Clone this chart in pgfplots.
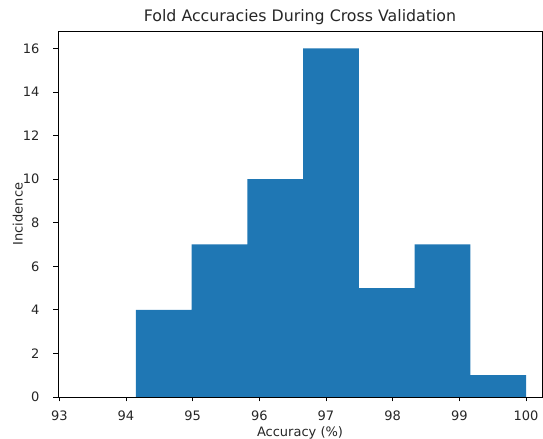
\documentclass[border=0pt]{standalone}
\usepackage{fontspec}
\setmainfont{DejaVu Sans}
\usepackage{pgfplots}
\pgfplotsset{compat=1.18}
\definecolor{mplblue}{HTML}{1F77B4}
\definecolor{txt}{HTML}{262626}
\begin{document}
\begin{tikzpicture}
\begin{axis}[
  scale only axis,
  width=484pt, height=366pt,
  xmin=92.98, xmax=100.24,
  ymin=0, ymax=16.8,
  xtick={93,94,95,96,97,98,99,100},
  ytick={0,2,4,6,8,10,12,14,16},
  /pgf/number format/assume math mode=true,
  tick align=outside,
  major tick length=4.5pt,
  tick style={black, line width=0.9pt},
  xtick pos=bottom, ytick pos=left,
  axis line style={black, line width=0.9pt},
  ticklabel style={font=\fontsize{13}{15}\selectfont, text=txt},
  xticklabel style={inner sep=0pt, anchor=north, yshift=-9pt},
  yticklabel style={inner sep=0pt, anchor=east, xshift=-14pt},
  title={Fold Accuracies During Cross Validation},
  every axis title/.style={at={(axis description cs:0.5,1.0265)}, anchor=base, font=\fontsize{15.8}{18}\selectfont, text=txt},
  xlabel={Accuracy (\%)},
  ylabel={Incidence},
  every axis x label/.style={at={(axis description cs:0.5,-0.1066)}, anchor=base, font=\fontsize{13}{15}\selectfont, text=txt},
  every axis y label/.style={at={(axis description cs:-0.0729,0.5)}, rotate=90, anchor=base, font=\fontsize{13}{15}\selectfont, text=txt},
]
\addplot[ybar interval, fill=mplblue, draw=none] coordinates {
  (94.150,4) (94.986,7) (95.821,10) (96.657,16) (97.493,5) (98.329,7) (99.164,1) (100.000,0)
};
\end{axis}
\pgfresetboundingbox
\path[use as bounding box] ([xshift=-58pt,yshift=-42pt]current axis.south west) rectangle ([xshift=1pt,yshift=31pt]current axis.north east);
\end{tikzpicture}
\end{document}
